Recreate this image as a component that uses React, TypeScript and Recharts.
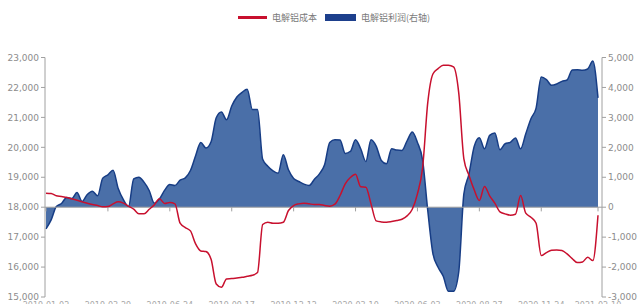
import { ComposedChart, Area, Line, XAxis, YAxis, ReferenceLine, Legend } from 'recharts';

// 电解铝成本 (left axis)
const costSeries = [
  18468, 18457, 18379, 18357, 18323, 18279, 18234, 18178, 18134, 18089,
  18056, 18011, 18022, 18111, 18178, 18134, 18033, 17933, 17777, 17777,
  17930, 18078, 18279, 18123, 18156, 18111, 17465, 17320, 17208, 16773,
  16539, 16517, 16261, 15435, 15324, 15603, 15614, 15636, 15658, 15692,
  15725, 15815, 17420, 17498, 17465, 17465, 17498, 17889, 18056, 18111,
  18134, 18111, 18089, 18089, 18056, 18033, 18100, 18390, 18781, 18990,
  19100, 18680, 18669, 18111, 17543, 17509, 17498, 17520, 17554, 17599,
  17710, 17933, 18446, 19316, 21490, 22449, 22627, 22739, 22739, 22683,
  21824, 19617, 19059, 18580, 18223, 18691, 18379, 18134, 17844, 17777,
  17732, 17766, 18390, 17800, 17666, 17465, 16383, 16484, 16562, 16573,
  16550, 16439, 16283, 16149, 16171, 16327, 16216, 17730,
];

// 电解铝利润 (right axis)
const profitSeries = [
  -725, -424, 22, 123, 323, 290, 490, 190, 424, 535,
  379, 970, 1082, 1230, 624, 250, 20, 948, 1004, 836,
  558, 134, 279, 569, 758, 725, 903, 981, 1227, 1717,
  2163, 1974, 2185, 2988, 3178, 2921, 3378, 3680, 3836, 3936,
  3267, 3267, 1600, 1371, 1215, 1137, 1750, 1249, 959, 859,
  769, 725, 925, 1115, 1416, 2163, 2252, 2241, 1795, 1862,
  2252, 1951, 1528, 2252, 2040, 1561, 1450, 1951, 1907, 1895,
  2219, 2509, 2163, 1572, -111, -1550, -2007, -2308, -2810, -2810,
  -2174, 446, 1115, 2029, 2319, 1951, 2397, 2475, 1918, 2119,
  2163, 2308, 1950, 2453, 2955, 3311, 4349, 4260, 4070, 4114,
  4204, 4248, 4583, 4594, 4571, 4616, 4884, 3650,
];

const tickIndexes = [0, 12, 24, 36, 48, 60, 72, 84, 96, 107];
const tickLabels = [
  '2019-01-02', '2019-03-29', '2019-06-24', '2019-09-17', '2019-12-12',
  '2020-03-10', '2020-06-03', '2020-08-27', '2020-11-24', '2021-02-10',
];
const leftTicks = [15000, 16000, 17000, 18000, 19000, 20000, 21000, 22000, 23000];
const rightTicks = [-3000, -2000, -1000, 0, 1000, 2000, 3000, 4000, 5000];

const data = costSeries.map((cost, i) => ({ idx: i, cost, profit: profitSeries[i] }));

const RED = '#c8102e';
const BLUE_FILL = '#4a6fa8';
const BLUE_LINE = '#173d85';
const AXIS = '#a0a0a0';
const TEXT = '#8c8c8c';

const fmt = (v: number) => v.toLocaleString('en-US');

const LegendBox = () => (
  <div style={{ display: 'flex', alignItems: 'center', height: 14, fontSize: 9, color: '#7a7a7a', fontFamily: '"Noto Sans CJK SC", sans-serif' }}>
    <span style={{ display: 'inline-block', width: 29, height: 3, background: RED, marginRight: 5 }} />
    <span style={{ marginRight: 8 }}>电解铝成本</span>
    <span style={{ display: 'inline-block', width: 31, height: 7, background: '#1d3f8c', marginRight: 5 }} />
    <span>电解铝利润(右轴)</span>
  </div>
);

export default function App() {
  return (
    <div style={{ position: 'absolute', left: 0, top: 0, background: '#fff', fontFamily: '"DejaVu Sans", sans-serif' }}>
      <ComposedChart width={639} height={304} data={data} margin={{ top: 43.5, right: 0, bottom: 0, left: 0 }}>
        <Legend
          verticalAlign="top"
          content={<LegendBox />}
          wrapperStyle={{ top: 10, left: 238, width: 230 }}
        />
        <XAxis
          dataKey="idx"
          type="category"
          ticks={tickIndexes}
          interval={0}
          padding={{ left: 1, right: 4 }}
          axisLine={false}
          tickLine={false}
          tickSize={0}
          tickMargin={5}
          height={7}
          tick={{ fontSize: 8, fill: '#a8a8a8' }}
          tickFormatter={(v) => tickLabels[tickIndexes.indexOf(v)]}
        />
        <YAxis
          yAxisId="left"
          orientation="left"
          width={45}
          domain={[15000, 23000]}
          ticks={leftTicks}
          interval={0}
          stroke={AXIS}
          tickSize={4}
          tickMargin={2}
          tick={{ fontSize: 9, fill: TEXT }}
          tickFormatter={fmt}
        />
        <YAxis
          yAxisId="right"
          orientation="right"
          width={37}
          domain={[-3000, 5000]}
          ticks={rightTicks}
          interval={0}
          stroke={AXIS}
          tickSize={4}
          tickMargin={2}
          tick={{ fontSize: 9, fill: TEXT }}
          tickFormatter={fmt}
        />
        <ReferenceLine yAxisId="right" y={0} stroke={AXIS} />
        {tickIndexes.map((t) => (
          <ReferenceLine
            key={t}
            yAxisId="right"
            segment={[{ x: t, y: 0 }, { x: t, y: -140 }]}
            stroke={AXIS}
          />
        ))}
        <Area
          yAxisId="right"
          type="monotone"
          dataKey="profit"
          baseValue={0}
          fill={BLUE_FILL}
          fillOpacity={1}
          stroke={BLUE_LINE}
          strokeWidth={1.5}
          isAnimationActive={false}
        />
        <Line
          yAxisId="left"
          type="monotone"
          dataKey="cost"
          stroke={RED}
          strokeWidth={1.5}
          dot={false}
          isAnimationActive={false}
        />
      </ComposedChart>
    </div>
  );
}
